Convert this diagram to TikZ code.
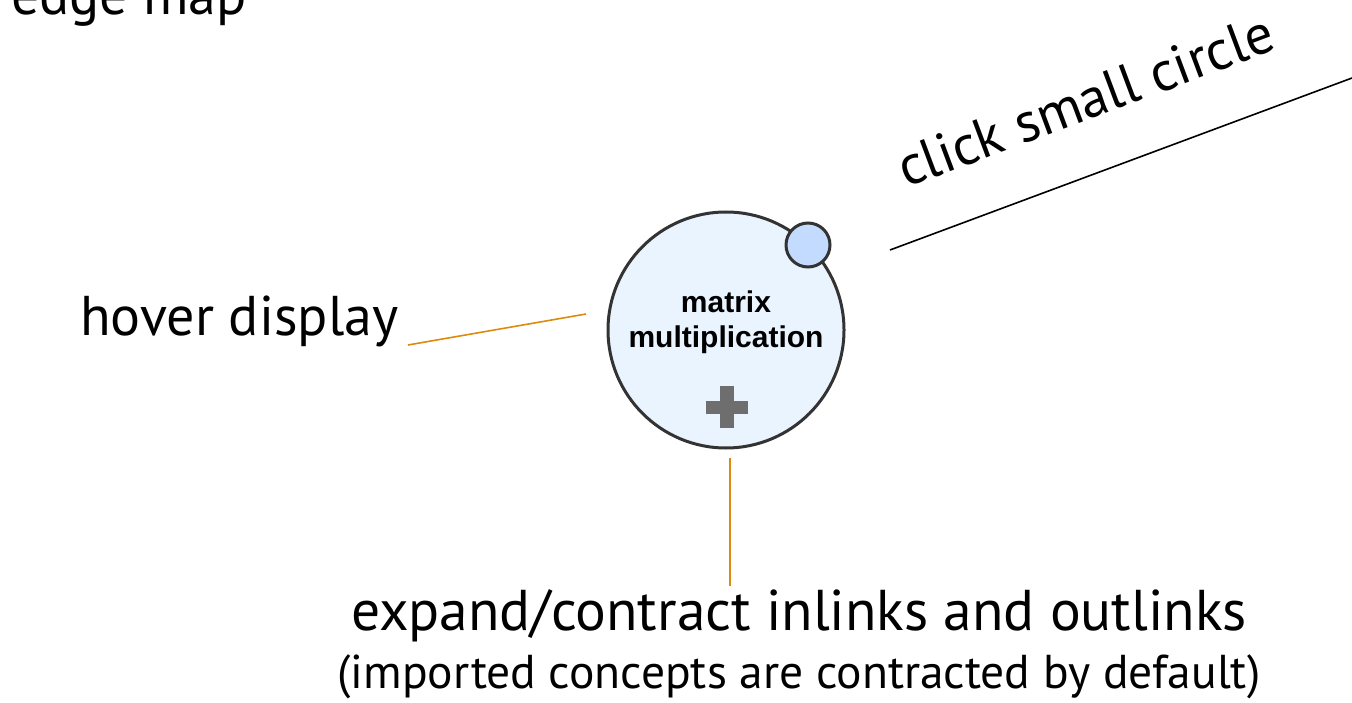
\documentclass[tikz,border=0pt]{standalone}
\usepackage{fontspec}
\setmainfont{PT Sans}
\newfontfamily\conceptfont{Liberation Sans}
\usetikzlibrary{positioning}
\definecolor{calloutOrange}{RGB}{222,138,12}
\definecolor{conceptFill}{RGB}{234,244,255}
\definecolor{toggleFill}{RGB}{194,219,255}
\definecolor{rimGray}{RGB}{51,51,51}
\definecolor{plusGray}{RGB}{110,110,110}
\tikzset{
    concept/.style={circle, draw=rimGray, line width=3pt, fill=conceptFill, minimum size=236pt, inner sep=0pt},
    toggle/.style={circle, draw=rimGray, line width=3pt, fill=toggleFill, minimum size=44pt, inner sep=0pt},
    conceptText/.style={font=\conceptfont\bfseries\fontsize{30}{35}\selectfont, align=center, inner sep=0pt},
    plusBar/.style={rectangle, fill=plusGray, inner sep=0pt},
    bigNote/.style={font=\fontsize{56}{62}\selectfont, inner sep=0pt},
    wideNote/.style={font=\fontsize{57.5}{62}\selectfont, inner sep=0pt},
    smallNote/.style={font=\fontsize{47.5}{52}\selectfont, inner sep=0pt},
    calloutLine/.style={calloutOrange, line width=1.6pt},
    pointerLine/.style={black, line width=1.6pt},
}

\begin{document}
\begin{tikzpicture}[x=1pt, y=-1pt]
        \useasboundingbox (0, 0) rectangle (1352, 703);

        \node[bigNote, anchor=base east] (title) at (247, 15) {edge map};

        \node[concept] (concept) at (726, 330) {};
        \node[toggle] (toggle) at (808, 245) {};
        \node[conceptText] (name) at (726, 322) {matrix\\multiplication};
        \node[plusBar, minimum width=42pt, minimum height=13pt] (plusH) at (727, 407) {};
        \node[plusBar, minimum width=14pt, minimum height=42pt] (plusV) at (727, 407) {};

        \node[bigNote, anchor=base west] (hover) at (80, 335) {hover display};
        \node[bigNote, anchor=base west, rotate=20.5] (click) at (906, 188) {click small circle};
        \node[wideNote, anchor=base] (expand) at (799, 630) {expand/contract inlinks and outlinks};
        \node[smallNote, anchor=base] (imported) at (799, 688) {(imported concepts are contracted by default)};

        \coordinate (hoverEnd) at (408, 345);
        \coordinate (hoverTip) at (586, 314);
        \coordinate (clickEnd) at (890, 250);
        \coordinate (clickTip) at (1352, 78);
        \coordinate (expandTop) at (730, 458);
        \coordinate (expandEnd) at (730, 586);

        \draw[calloutLine] (hoverEnd) -- (hoverTip);
        \draw[pointerLine] (clickEnd) -- (clickTip);
        \draw[calloutLine] (expandTop) -- (expandEnd);

    \end{tikzpicture}
\end{document}
